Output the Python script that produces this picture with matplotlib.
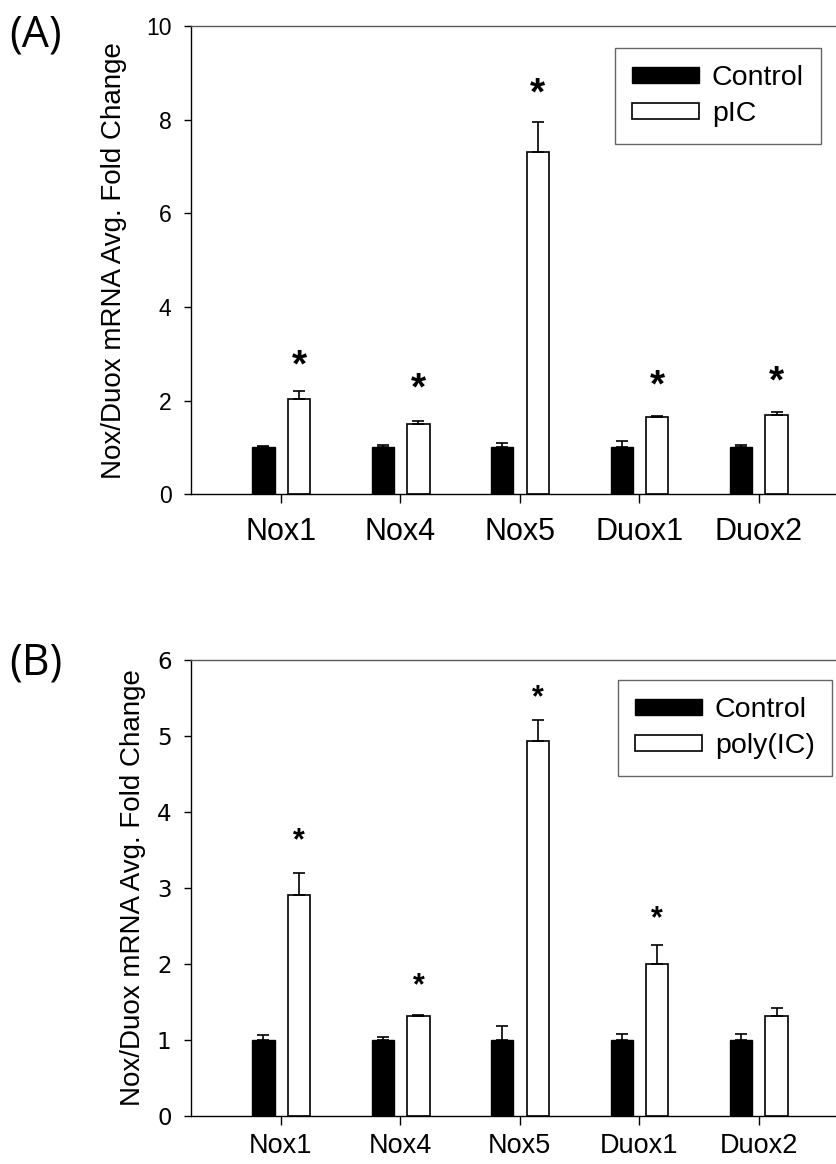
import numpy as np
import matplotlib.pyplot as plt

genes = ['Nox1', 'Nox4', 'Nox5', 'Duox1', 'Duox2']

# panel A
ctrl_a = [1.0, 1.0, 1.0, 1.0, 1.0]
ctrl_a_err = [0.03, 0.06, 0.09, 0.13, 0.06]
pic_a = [2.03, 1.50, 7.31, 1.65, 1.70]
pic_a_err = [0.17, 0.06, 0.64, 0.02, 0.06]
star_a = [2.73, 2.23, 8.53, 2.31, 2.38]

# panel B
ctrl_b = [1.0, 1.0, 1.0, 1.0, 1.0]
ctrl_b_err = [0.06, 0.03, 0.18, 0.08, 0.08]
poly_b = [2.90, 1.31, 4.93, 2.00, 1.31]
poly_b_err = [0.30, 0.02, 0.28, 0.25, 0.11]
star_b = [3.62, 1.71, 5.50, 2.59, None]

W, H = 837, 1164
fig = plt.figure(figsize=(W / 100, H / 100), dpi=100)
plt.rcParams['font.family'] = ['Liberation Sans', 'DejaVu Sans']

ylabel = 'Nox/Duox mRNA Avg. Fold Change'


def panel(rect, ctrl, ctrl_err, trt, trt_err, stars, ymax, step, trt_name,
          star_size, leg_box, xfs, xpad, yfam, ylab_x):
    ax = fig.add_axes(rect)
    x = np.arange(len(genes))
    w = 0.187
    ekw = dict(ecolor='black', elinewidth=1.2, capthick=1.2, capsize=4)
    ax.bar(x - 0.146, ctrl, w, color='black', edgecolor='black', lw=1,
           label='Control')
    ax.errorbar(x - 0.146, ctrl, yerr=[np.zeros(len(ctrl)), ctrl_err],
                fmt='none', **ekw)
    ax.bar(x + 0.152, trt, w, color='white', edgecolor='black', lw=1.2,
           label=trt_name)
    ax.errorbar(x + 0.152, trt, yerr=[np.zeros(len(trt)), trt_err],
                fmt='none', **ekw)
    for xi, s in zip(x, stars):
        if s is not None:
            ax.text(xi + 0.152, s, '*', ha='center', va='center',
                    fontsize=star_size, fontweight='bold')
    # axis runs past the right edge of the picture, as in the original
    ax.set_xlim(-0.753, 4.85)
    ax.set_ylim(0, ymax)
    ax.set_yticks(np.arange(0, ymax + 0.01, step))
    ax.set_yticklabels([str(int(v)) for v in np.arange(0, ymax + 0.01, step)],
                       family=yfam, fontsize=16.5)
    ax.set_xticks(x)
    ax.set_xticklabels(genes, fontsize=xfs)
    ax.tick_params(axis='x', direction='out', length=6.5, width=1, pad=xpad)
    ax.tick_params(axis='y', direction='out', length=5, width=1, pad=9)
    ax.spines['right'].set_visible(False)
    ax.spines['top'].set_color('0.35')
    ax.spines['top'].set_linewidth(1)
    ax.spines['left'].set_linewidth(1)
    ax.spines['bottom'].set_linewidth(1)
    ax.set_ylabel(ylabel, fontsize=20)
    ax.yaxis.set_label_coords(ylab_x, 0.5)
    leg = ax.legend(loc='upper left', bbox_to_anchor=leg_box,
                    bbox_transform=fig.transFigure, fontsize=20.5, frameon=True,
                    fancybox=False, edgecolor='0.25', handlelength=2.35,
                    handleheight=0.53, borderaxespad=0, borderpad=0.6,
                    labelspacing=0.35, handletextpad=0.45)
    leg.get_frame().set_linewidth(1)
    return ax


x0 = 191
axw = (860 - x0) / W
panel([x0 / W, (H - 494.3) / H, axw, (494.3 - 26) / H],
      ctrl_a, ctrl_a_err, pic_a, pic_a_err, star_a, 10, 2, 'pIC',
      28, (615 / W, 1 - 48 / H), 22, 10, 'Liberation Sans', -0.095)
panel([x0 / W, (H - 1115.7) / H, axw, (1115.7 - 660) / H],
      ctrl_b, ctrl_b_err, poly_b, poly_b_err, star_b, 6, 1, 'poly(IC)',
      22, (618 / W, 1 - 680 / H), 19.5, 6, 'Liberation Sans Narrow', -0.068)

fig.text(9 / W, 1 - 35 / H, '(A)', fontsize=31, va='center', ha='left',
         family=['Open Sans', 'DejaVu Sans'])
fig.text(9 / W, 1 - 663 / H, '(B)', fontsize=31, va='center', ha='left',
         family=['Open Sans', 'DejaVu Sans'])

fig.savefig('out.png', dpi=100)
